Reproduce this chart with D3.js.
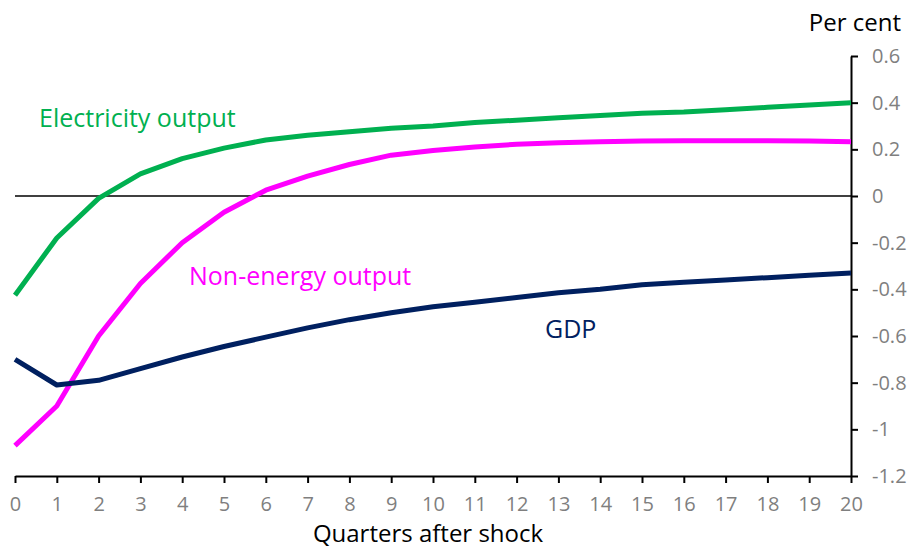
<!DOCTYPE html>
<html><head><meta charset="utf-8">
<script src="https://cdn.jsdelivr.net/npm/d3@7"></script>
<style>body{margin:0;background:#fff}svg{display:block}text{font-family:"Open Sans",sans-serif}</style>
</head><body>
<svg id="c" width="914" height="550"></svg>
<script>
const quarters = d3.range(0, 21);
const electricity = [-0.425,-0.18,-0.01,0.095,0.16,0.205,0.24,0.26,0.275,0.29,0.30,0.315,0.325,0.335,0.345,0.355,0.36,0.37,0.38,0.39,0.40];
const nonEnergy = [-1.07,-0.90,-0.60,-0.375,-0.20,-0.07,0.025,0.085,0.135,0.175,0.195,0.21,0.222,0.228,0.232,0.236,0.237,0.237,0.237,0.236,0.232];
const gdp = [-0.70,-0.81,-0.79,-0.74,-0.69,-0.645,-0.605,-0.565,-0.53,-0.50,-0.475,-0.455,-0.435,-0.415,-0.40,-0.38,-0.37,-0.36,-0.35,-0.34,-0.33];
const yTicks = [0.6,0.4,0.2,0,-0.2,-0.4,-0.6,-0.8,-1,-1.2];
const series = [
  {name:"Electricity output", values: electricity, color:"#00b050", lx:39, ly:127},
  {name:"Non-energy output", values: nonEnergy, color:"#ff00ff", lx:189, ly:285},
  {name:"GDP", values: gdp, color:"#002060", lx:545, ly:338}
];

const svg = d3.select("#c");
const x = d3.scaleLinear().domain([0,20]).range([15,851]);
const y = d3.scaleLinear().domain([-1.2,0.6]).range([476,56]);

svg.append("line").attr("x1",x(0)).attr("x2",x(20)).attr("y1",y(0)).attr("y2",y(0))
  .attr("stroke","#000").attr("stroke-width",1.5);

const xa = svg.append("g").attr("transform",`translate(0,${y(-1.2)})`)
  .call(d3.axisBottom(x).tickValues(quarters).tickFormat(d3.format("d")).tickSize(7).tickSizeOuter(0).tickPadding(14));
xa.select(".domain").attr("stroke","#000").attr("stroke-width",2);
xa.selectAll(".tick line").attr("stroke","#000").attr("stroke-width",2);
xa.selectAll(".tick text").attr("fill","#7f7f7f").attr("font-size",20).attr("font-family","'Open Sans',sans-serif");

const ya = svg.append("g").attr("transform",`translate(${x(20)},0)`)
  .call(d3.axisRight(y).tickValues(yTicks).tickFormat(d=>String(d)).tickSize(7).tickSizeOuter(0).tickPadding(14));
ya.select(".domain").attr("stroke","#000").attr("stroke-width",2);
ya.selectAll(".tick line").attr("stroke","#000").attr("stroke-width",2);
ya.selectAll(".tick text").attr("fill","#7f7f7f").attr("font-size",20).attr("font-family","'Open Sans',sans-serif");

const line = d3.line().x((d,i)=>x(quarters[i])).y(d=>y(d));
series.forEach(s=>{
  svg.append("path").datum(s.values).attr("d",line).attr("fill","none")
    .attr("stroke",s.color).attr("stroke-width",5).attr("stroke-linejoin","round");
  svg.append("text").attr("x",s.lx).attr("y",s.ly).attr("fill",s.color).attr("font-size",25).text(s.name);
});

svg.append("text").attr("x",901).attr("y",31).attr("text-anchor","end").attr("font-size",24).attr("fill","#000").text("Per cent");
svg.append("text").attr("x",428).attr("y",542).attr("text-anchor","middle").attr("font-size",24).attr("fill","#000").text("Quarters after shock");
</script>
</body></html>
